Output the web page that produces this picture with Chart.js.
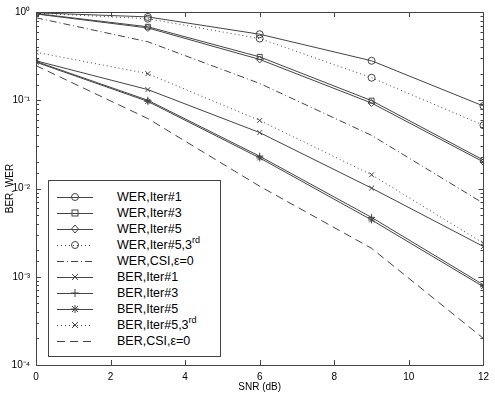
<!DOCTYPE html>
<html>
<head>
<meta charset="utf-8">
<script src="https://cdn.jsdelivr.net/npm/chart.js@4/dist/chart.umd.min.js"></script>
<style>
  html, body { margin: 0; padding: 0; background: #fff; }
  #wrap { position: relative; width: 495px; height: 393px; }
  #legend {
    position: absolute; left: 48px; top: 180px; width: 173px; height: 177px;
    box-sizing: border-box; border: 1px solid #444; background: #fff;
    font-family: "Liberation Sans", Arial, sans-serif; font-size: 12.5px; color: #000;
  }
  .row { position: absolute; left: 0; width: 170px; height: 16px; }
  .row svg { position: absolute; left: 0; top: 0; }
  .row span { position: absolute; left: 68px; top: 0; line-height: 16px; white-space: nowrap; }
  .row sup { font-size: 9px; line-height: 0; position: relative; top: -1px; }
</style>
</head>
<body>
<div id="wrap">
  <canvas id="chart" width="495" height="393"></canvas>
  <div id="legend"></div>
</div>
<script>
// SNR points (dB)
const snr = [0, 3, 6, 9, 12];
const xTickValues = [0, 2, 4, 6, 8, 10, 12];

// WER curves
const werIter1 = [0.98, 0.88, 0.56, 0.28, 0.086];
const werIter3 = [0.96, 0.68, 0.31, 0.099, 0.021];
const werIter5 = [0.95, 0.66, 0.29, 0.093, 0.020];
const werIter5_3rd = [0.97, 0.84, 0.50, 0.18, 0.052];
const werCsi = [0.86, 0.46, 0.155, 0.04, 0.0068];

// BER curves
const berIter1 = [0.28, 0.132, 0.043, 0.0101, 0.0022];
const berIter3 = [0.275, 0.10, 0.0232, 0.0047, 0.00081];
const berIter5 = [0.27, 0.097, 0.0222, 0.0044, 0.00077];
const berIter5_3rd = [0.35, 0.20, 0.059, 0.0143, 0.0024];
const berCsi = [0.247, 0.062, 0.0106, 0.0021, 0.0002];

const lineColor = "#444";
const DOT = [1, 3], DASHDOT = [7, 3, 1, 3], DASH = [8, 5];

const series = [
    { label: "WER,Iter#1", data: werIter1, dash: [], point: "circle" },
    { label: "WER,Iter#3", data: werIter3, dash: [], point: "rect" },
    { label: "WER,Iter#5", data: werIter5, dash: [], point: "rectRot" },
    { label: "WER,Iter#5,3<sup>rd</sup>", data: werIter5_3rd, dash: DOT, point: "circle" },
    { label: "WER,CSI,ε=0", data: werCsi, dash: DASHDOT, point: false },
    { label: "BER,Iter#1", data: berIter1, dash: [], point: "crossRot" },
    { label: "BER,Iter#3", data: berIter3, dash: [], point: "cross" },
    { label: "BER,Iter#5", data: berIter5, dash: [], point: "star" },
    { label: "BER,Iter#5,3<sup>rd</sup>", data: berIter5_3rd, dash: DOT, point: "crossRot" },
    { label: "BER,CSI,ε=0", data: berCsi, dash: DASH, point: false }
];

const sup = { "0": "⁰", "1": "¹", "2": "²", "3": "³", "4": "⁴", "-": "⁻" };
function isDecade(v) {
    const l = Math.log10(v);
    return Math.abs(l - Math.round(l)) < 1e-9;
}

const datasets = series.map(s => ({
    label: s.label.replace(/<[^>]+>/g, ""),
    data: snr.map((x, i) => ({ x: x, y: s.data[i] })),
    borderColor: lineColor,
    borderWidth: 1,
    borderDash: s.dash,
    backgroundColor: "rgba(0,0,0,0)",
    pointStyle: s.point || "circle",
    pointRadius: s.point ? 3.5 : 0,
    pointBorderColor: lineColor,
    pointBorderWidth: 1,
    pointBackgroundColor: "rgba(0,0,0,0)",
    tension: 0,
    fill: false
}));

// frame + inward ticks on all four sides
const frameTicks = {
    id: "frameTicks",
    afterDraw(chart) {
        const { ctx, chartArea: a, scales: { x, y } } = chart;
        ctx.save();
        ctx.strokeStyle = lineColor;
        ctx.lineWidth = 1;
        ctx.strokeRect(Math.round(a.left) + 0.5, Math.round(a.top) + 0.5,
            Math.round(a.right - a.left), Math.round(a.bottom - a.top));
        ctx.beginPath();
        xTickValues.forEach(v => {
            const px = Math.round(x.getPixelForValue(v)) + 0.5;
            ctx.moveTo(px, a.bottom); ctx.lineTo(px, a.bottom - 5);
            ctx.moveTo(px, a.top); ctx.lineTo(px, a.top + 5);
        });
        y.ticks.forEach(t => {
            const len = isDecade(t.value) ? 5 : 3;
            const py = Math.round(y.getPixelForValue(t.value)) + 0.5;
            ctx.moveTo(a.left, py); ctx.lineTo(a.left + len, py);
            ctx.moveTo(a.right, py); ctx.lineTo(a.right - len, py);
        });
        ctx.stroke();
        ctx.restore();
    }
};

const font = { family: "'Liberation Sans', Arial, sans-serif", size: 10 };

new Chart(document.getElementById("chart").getContext("2d"), {
    type: "line",
    data: { datasets: datasets },
    options: {
        responsive: false,
        animation: false,
        layout: { padding: { top: 9, right: 7, left: 0, bottom: 0 } },
        plugins: { legend: { display: false }, tooltip: { enabled: false } },
        scales: {
            x: {
                type: "linear",
                min: 0, max: 12,
                grid: { display: false, drawTicks: false },
                border: { display: false },
                ticks: { stepSize: 2, color: "#000", font: font, padding: 6 },
                title: { display: true, text: "SNR (dB)", color: "#000", font: font, padding: { top: 0, bottom: 0 } },
                afterFit(scale) { scale.height = 28; }
            },
            y: {
                type: "logarithmic",
                min: 1e-4, max: 1,
                grid: { display: false, drawTicks: false },
                border: { display: false },
                ticks: {
                    autoSkip: false,
                    color: "#000",
                    font: font,
                    padding: 6,
                    callback: v => isDecade(v)
                        ? "10" + String(Math.round(Math.log10(v))).split("").map(c => sup[c]).join("")
                        : ""
                },
                title: { display: true, text: "BER, WER", color: "#000", font: font, padding: { top: 4, bottom: 0 } },
                afterFit(scale) { scale.width = 36; }
            }
        }
    },
    plugins: [frameTicks]
});

// legend box inside the plot, like the original figure
function markerSvg(kind) {
    const c = 26, m = 8, r = 3.5;
    const st = `stroke="${lineColor}" stroke-width="1" fill="none"`;
    if (kind === "circle") return `<circle cx="${c}" cy="${m}" r="${r}" ${st}/>`;
    if (kind === "rect") return `<rect x="${c - 3}" y="${m - 3}" width="6" height="6" ${st}/>`;
    if (kind === "rectRot") return `<polygon points="${c},${m - 4} ${c + 3.5},${m} ${c},${m + 4} ${c - 3.5},${m}" ${st}/>`;
    const plus = `<path d="M${c - 4} ${m}H${c + 4}M${c} ${m - 4}V${m + 4}" ${st}/>`;
    const ex = `<path d="M${c - 3} ${m - 3}L${c + 3} ${m + 3}M${c + 3} ${m - 3}L${c - 3} ${m + 3}" ${st}/>`;
    if (kind === "cross") return plus;
    if (kind === "crossRot") return ex;
    if (kind === "star") return plus + ex;
    return "";
}

const legendEl = document.getElementById("legend");
series.forEach((s, i) => {
    const row = document.createElement("div");
    row.className = "row";
    row.style.top = (7.7 + 16 * i) + "px";
    const dash = s.dash.length ? `stroke-dasharray="${s.dash.join(",")}"` : "";
    row.innerHTML =
        `<svg width="60" height="16"><line x1="8" y1="8.5" x2="44" y2="8.5" stroke="${lineColor}" stroke-width="1" ${dash}/>` +
        markerSvg(s.point) + `</svg><span>${s.label}</span>`;
    legendEl.appendChild(row);
});
</script>
</body>
</html>
